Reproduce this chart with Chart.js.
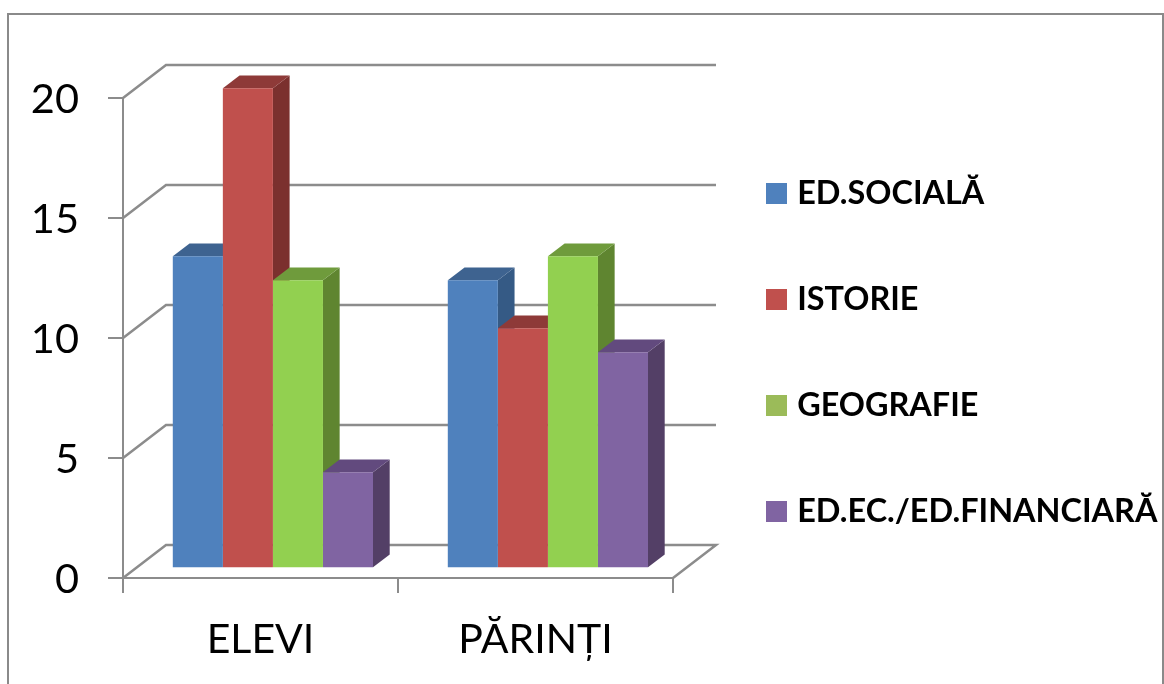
<!DOCTYPE html>
<html>
<head>
<meta charset="utf-8">
<style>
html, body { margin: 0; padding: 0; background: #fff; overflow: hidden; }
#frame { position: absolute; left: 7px; top: 13px; width: 1153px; height: 700px; border: 2px solid #8a8a8a; }
canvas { position: absolute; left: 0; top: 0; }
</style>
</head>
<body>
<div id="frame"></div>
<canvas id="bar-chart" width="1164" height="684"></canvas>
<script src="https://cdn.jsdelivr.net/npm/chart.js@4"></script>
<script>
const categories = ["ELEVI", "PĂRINȚI"];
const edSociala = [13, 12];
const istorie = [20, 10];
const geografie = [12, 13];
const edFinanciara = [4, 9];
const seriesNames = ["ED.SOCIALĂ", "ISTORIE", "GEOGRAFIE", "ED.EC./ED.FINANCIARĂ"];

const frontColors = ["#4F81BD", "#C0504D", "#92D050", "#8064A2"];
const topColors = ["#3E6390", "#8E3A38", "#6F9B3C", "#624A7E"];
const sideColors = ["#355A85", "#7B302E", "#5F8530", "#533F66"];
const legendColors = ["#4F81BD", "#C0504D", "#9BBB59", "#8064A2"];

const lineColor = "#8c8c8c";
// the back wall sits up and to the right of the front plane
const wallX = 43, wallY = 33;
// bars stand a bit inside the floor
const barShiftX = 12.4, barShiftY = 9.7;
const barDepthX = 16.7, barDepthY = 12.8;

// legend swatch as a small canvas, so the label can start closer to it than the default gap
function swatch(color) {
    const c = document.createElement("canvas");
    c.width = 21;
    c.height = 21;
    const g = c.getContext("2d");
    g.fillStyle = color;
    g.fillRect(0, 0, 21, 21);
    return c;
}

const box3d = {
    id: "box3d",
    afterLayout(chart) {
        // legend sits in its own column right of the walls
        const legend = chart.legend;
        const pad = legend.options.labels.padding;
        legend.left = 772 - pad;
        legend.right = 1164;
        legend.top = 177.5 - pad;
        legend.bottom = 640;
    },
    beforeDatasetsDraw(chart) {
        const ctx = chart.ctx, area = chart.chartArea, y = chart.scales.y;

        // walls and floor
        ctx.save();
        ctx.strokeStyle = lineColor;
        ctx.lineWidth = 2.5;
        y.ticks.forEach(function (t) {
            const py = y.getPixelForValue(t.value);
            ctx.beginPath();
            ctx.moveTo(area.left, py);
            ctx.lineTo(area.left + wallX, py - wallY);
            ctx.lineTo(area.right + wallX, py - wallY);
            if (t.value === 0) ctx.lineTo(area.right, py);
            ctx.stroke();
        });
        ctx.restore();

        // moved back in afterDatasetsDraw, so the bars native fronts move too
        ctx.save();
        ctx.translate(barShiftX, -barShiftY);
        for (let c = 0; c < categories.length; c++) {
            for (let s = 0; s < seriesNames.length; s++) {
                const bar = chart.getDatasetMeta(s).data[c];
                const x1 = bar.x - bar.width / 2, x2 = bar.x + bar.width / 2;
                ctx.fillStyle = sideColors[s];
                ctx.beginPath();
                ctx.moveTo(x2, bar.y);
                ctx.lineTo(x2 + barDepthX, bar.y - barDepthY);
                ctx.lineTo(x2 + barDepthX, bar.base - barDepthY);
                ctx.lineTo(x2, bar.base);
                ctx.fill();
                ctx.fillStyle = topColors[s];
                ctx.beginPath();
                ctx.moveTo(x1, bar.y);
                ctx.lineTo(x1 + barDepthX, bar.y - barDepthY);
                ctx.lineTo(x2 + barDepthX, bar.y - barDepthY);
                ctx.lineTo(x2, bar.y);
                ctx.fill();
            }
        }
    },
    afterDatasetsDraw(chart) {
        chart.ctx.restore();
    }
};

new Chart(document.getElementById("bar-chart"), {
    type: 'bar',
    data: {
        labels: categories,
        datasets: [
            { label: seriesNames[0], data: edSociala, backgroundColor: frontColors[0] },
            { label: seriesNames[1], data: istorie, backgroundColor: frontColors[1] },
            { label: seriesNames[2], data: geografie, backgroundColor: frontColors[2] },
            { label: seriesNames[3], data: edFinanciara, backgroundColor: frontColors[3] }
        ]
    },
    options: {
        responsive: false,
        animation: false,
        layout: { padding: { top: 98, right: 491, left: 0, bottom: 0 } },
        datasets: {
            bar: { categoryPercentage: 0.728, barPercentage: 1, clip: false }
        },
        scales: {
            x: {
                afterFit(scale) { scale.height = 106; },
                grid: { color: lineColor, lineWidth: 2, drawOnChartArea: false, tickLength: 15 },
                border: { color: lineColor, width: 2 },
                ticks: { color: "#000", padding: 22, font: { family: "Lato", size: 41 }, maxRotation: 0 }
            },
            y: {
                min: 0,
                max: 20,
                afterFit(scale) { scale.width = 123; },
                grid: { color: lineColor, lineWidth: 2, drawOnChartArea: false, tickLength: 15 },
                border: { color: lineColor, width: 2 },
                ticks: { color: "#000", stepSize: 5, padding: 29, labelOffset: 2, font: { family: "Lato", size: 41.5 } }
            }
        },
        plugins: {
            legend: {
                position: 'chartArea',
                align: 'start',
                labels: {
                    color: "#000",
                    usePointStyle: true,
                    pointStyleWidth: 9,
                    boxHeight: 21,
                    padding: 73.6,
                    font: { family: "Lato", size: 32.4, weight: "bold" },
                    generateLabels(chart) {
                        return seriesNames.map(function (name, i) {
                            return { text: name, fillStyle: legendColors[i], strokeStyle: legendColors[i], lineWidth: 0, pointStyle: swatch(legendColors[i]), datasetIndex: i };
                        });
                    }
                }
            },
            title: { display: false },
            tooltip: { enabled: false }
        }
    },
    plugins: [box3d]
});
</script>
</body>
</html>
